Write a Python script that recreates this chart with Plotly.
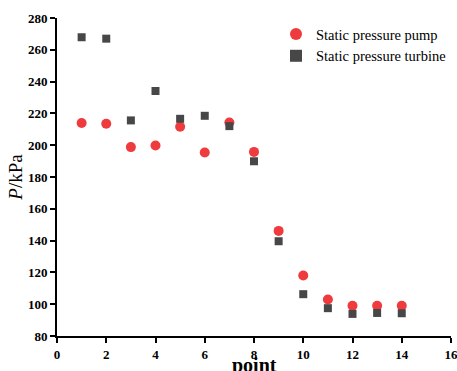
import plotly.graph_objects as go

points = [1, 2, 3, 4, 5, 6, 7, 8, 9, 10, 11, 12, 13, 14]
pump = [214, 213.5, 198.8, 199.8, 211.6, 195.4, 214.3, 195.8, 146.1, 118.1, 103, 99, 99, 99]
turbine = [267.9, 267, 215.6, 234.1, 216.6, 218.5, 212, 189.9, 139.6, 106.3, 97.5, 93.9, 94.5, 94.3]
x_ticks = [0, 2, 4, 6, 8, 10, 12, 14, 16]
y_ticks = list(range(80, 281, 20))

fig = go.Figure()
fig.add_trace(go.Scatter(x=points, y=pump, mode="markers", name="Static pressure pump",
                         marker=dict(symbol="circle", size=10, color="#EF3B3D")))
fig.add_trace(go.Scatter(x=points, y=turbine, mode="markers", name="Static pressure turbine",
                         marker=dict(symbol="square", size=8, color="#474747")))

font_b = dict(family="Liberation Serif", size=13, color="black")
fig.update_layout(
    width=457, height=371,
    margin=dict(l=57, r=6, t=18, b=35),
    plot_bgcolor="white", paper_bgcolor="white",
    showlegend=True,
    legend=dict(x=1.0, y=1.0, xanchor="right", yanchor="top",
                font=dict(family="Liberation Serif", size=14.5, color="black"),
                bgcolor="rgba(0,0,0,0)", itemsizing="constant", tracegroupgap=0,
                itemwidth=30),
    xaxis=dict(range=[0, 16], tickvals=x_ticks,
               ticktext=["<b>%d</b>" % v for v in x_ticks],
               showline=True, linecolor="black", linewidth=2, ticks="outside",
               ticklen=5, tickwidth=2, tickcolor="black", showgrid=False, zeroline=False,
               tickfont=font_b, automargin=False, ticklabeloverflow="allow"),
    yaxis=dict(range=[80, 280], tickvals=y_ticks,
               ticktext=["<b>%d</b>" % v for v in y_ticks],
               showline=True, linecolor="black", linewidth=2, ticks="outside",
               ticklen=5, tickwidth=2, tickcolor="black", showgrid=False, zeroline=False,
               tickfont=font_b, automargin=False, ticklabeloverflow="allow",
               title=dict(text="<i>P</i>/kPa", font=dict(family="Liberation Serif", size=19, color="black"),
                          standoff=0)),
    annotations=[dict(text="<b>point</b>", xref="paper", yref="paper", x=0.5, y=0,
                      xanchor="center", yanchor="middle", yshift=-29, showarrow=False,
                      font=dict(family="Liberation Serif", size=20, color="black"))],
)
fig.write_html("out.html", config={"displayModeBar": False},
               post_script="document.body.style.margin='0';document.body.style.overflow='hidden';")
